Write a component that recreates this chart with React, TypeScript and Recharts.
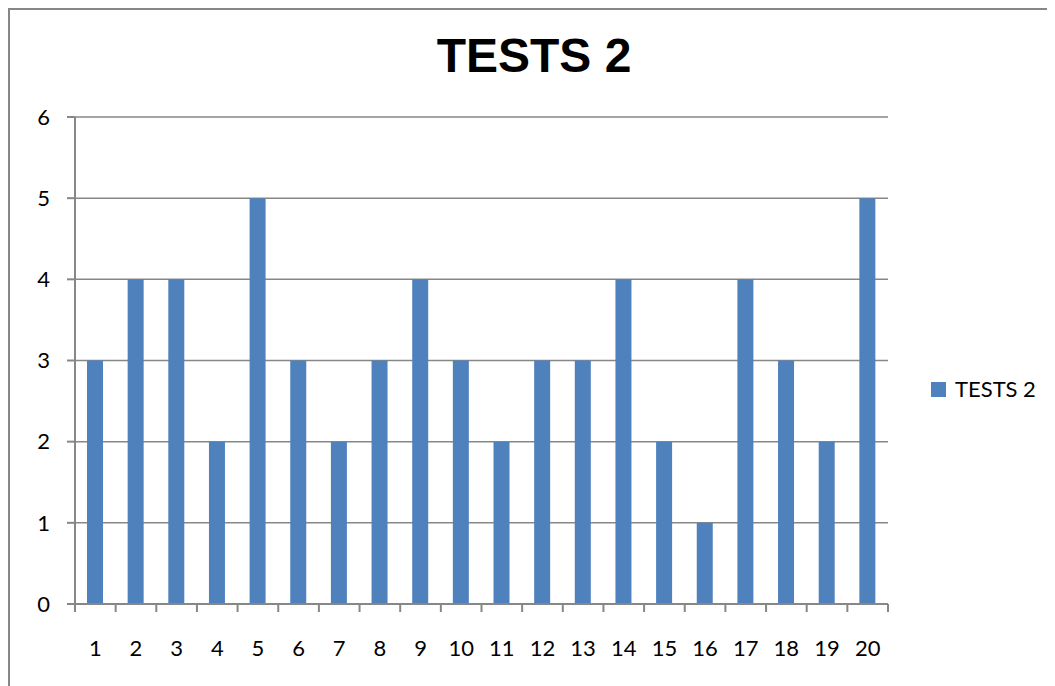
import React from "react";
import { BarChart, Bar, XAxis, YAxis, CartesianGrid } from "recharts";

const categories = ["1","2","3","4","5","6","7","8","9","10","11","12","13","14","15","16","17","18","19","20"];
const values = [3,4,4,2,5,3,2,3,4,3,2,3,3,4,2,1,4,3,2,5];
const yTicks = [0,1,2,3,4,5,6];
const seriesName = "TESTS 2";
const title = "TESTS 2";

const data = categories.map((c, i) => ({ name: c, value: values[i] }));

const GRAY = "#878787";
const BLUE = "#4F81BD";
const FONT = "Lato, 'Open Sans', sans-serif";
const TICK_MARGIN = 36;

const XTick = (props: any) => {
  const { x, y, payload, index } = props;
  const half = payload && payload.offset ? payload.offset : 20.3;
  const axisY = y - TICK_MARGIN;
  return (
    <g>
      <line x1={x - half} x2={x - half} y1={axisY} y2={axisY + 8} stroke={GRAY} strokeWidth={2} />
      {index === categories.length - 1 && (
        <line x1={x + half} x2={x + half} y1={axisY} y2={axisY + 8} stroke={GRAY} strokeWidth={2} />
      )}
      <text x={x} y={y} dy="0.71em" textAnchor="middle" fill="#000" fontSize={22} fontFamily={FONT}>
        {payload.value}
      </text>
    </g>
  );
};

export default function App() {
  return (
    <div
      style={{
        position: "relative",
        width: 1047,
        height: 678,
        boxSizing: "border-box",
        borderLeft: `2px solid ${GRAY}`,
        borderTop: `2px solid ${GRAY}`,
        background: "#fff",
        overflow: "hidden",
      }}
    >
      <div
        style={{
          position: "absolute",
          left: 424,
          width: 200,
          top: 22,
          textAlign: "center",
          fontFamily: "'Liberation Sans', Arial, sans-serif",
          fontWeight: "bold",
          fontSize: 48,
          lineHeight: "48px",
          color: "#000",
          whiteSpace: "nowrap",
        }}
      >
        {title}
      </div>
      <div
        style={{
          position: "absolute",
          left: 921,
          top: 366,
          display: "flex",
          alignItems: "center",
          fontFamily: FONT,
          fontSize: 22,
          lineHeight: "26px",
          color: "#000",
          whiteSpace: "nowrap",
        }}
      >
        <div style={{ width: 15, height: 15, background: BLUE, marginRight: 9 }} />
        <span>{seriesName}</span>
      </div>
      <BarChart
        width={1045}
        height={676}
        data={data}
        margin={{ top: 107, right: 167, bottom: 22, left: 0 }}
        barSize={16}
      >
        <CartesianGrid vertical={false} stroke={GRAY} strokeWidth={1.5} />
        <XAxis
          dataKey="name"
          height={60}
          axisLine={{ stroke: GRAY, strokeWidth: 2 }}
          tickLine={false}
          tickSize={0}
          tickMargin={TICK_MARGIN}
          interval={0}
          tick={<XTick />}
        />
        <YAxis
          width={65}
          domain={[0, 6]}
          ticks={yTicks}
          interval={0}
          axisLine={{ stroke: GRAY, strokeWidth: 2 }}
          tickLine={{ stroke: GRAY, strokeWidth: 2 }}
          tickSize={8}
          tickMargin={17}
          tick={{ fill: "#000", fontSize: 22, fontFamily: FONT }}
        />
        <Bar dataKey="value" name={seriesName} fill={BLUE} isAnimationActive={false} />
      </BarChart>
    </div>
  );
}
